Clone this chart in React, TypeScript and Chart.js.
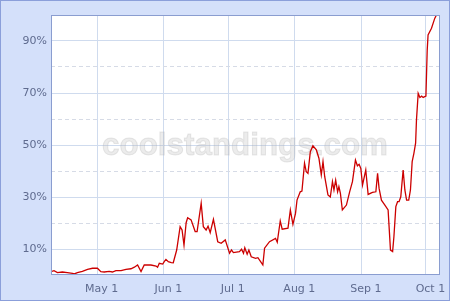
import React, { useEffect, useRef } from "react";
import { Chart, registerables } from "chart.js";

Chart.register(...registerables);

// Day offsets counted from April 1 (0 = Apr 1)
const days = [
  8.5, 9.9, 11.5, 13.8, 16.1, 18.5, 19.3, 20.8, 23.1, 25.5, 27.8, 30.1, 31.7, 33.3, 35.6, 37.1,
  38.7, 41.1, 43.4, 45.7, 47.3, 48.8, 50.4, 51.9, 55.0, 57.4, 58.1, 58.9, 60.5, 61.2, 62.0, 63.1,
  64.5, 65.4, 67.0, 68.6, 69.5, 70.4, 71.4, 72.1, 73.7, 75.6, 76.5, 78.4, 79.4, 80.7, 81.6, 82.6,
  84.1, 86.1, 87.7, 89.6, 91.6, 92.5, 93.4, 96.2, 97.2, 98.1, 98.7, 99.8, 100.6, 101.7, 103.7,
  104.8, 107.1, 107.9, 110.2, 113.0, 113.8, 115.2, 116.1, 118.8, 119.9, 121.1, 122.3, 123.0,
  124.5, 125.3, 126.5, 127.3, 128.1, 129.2, 130.4, 132.0, 133.2, 134.3, 135.1, 135.9, 137.4,
  138.5, 139.5, 140.2, 141.0, 141.9, 142.5, 143.2, 144.1, 146.0, 147.5, 148.8, 150.2, 151.1,
  151.9, 152.7, 153.5, 155.0, 156.1, 158.1, 159.7, 160.5, 161.2, 162.3, 163.9, 165.4, 166.5,
  167.5, 168.1, 169.0, 169.8, 170.5, 171.3, 172.4, 173.2, 174.0, 175.0, 175.8, 176.6, 177.4,
  178.2, 178.6, 179.4, 180.2, 181.0, 181.7, 183.0, 183.6, 184.0, 185.6, 187.1, 187.9,
];

const pct = [
  1.3, 1.65, 0.9, 1.15, 0.9, 0.65, 0.4, 0.9, 1.4, 2.2, 2.6, 2.6, 1.3, 1.15, 1.4, 1.15,
  1.65, 1.65, 2.2, 2.4, 3.0, 3.85, 1.3, 3.85, 3.85, 3.45, 3.0, 4.5, 4.2, 5.1, 6.0, 5.1,
  4.8, 4.7, 9.6, 18.6, 17.3, 11.5, 20.1, 22.0, 21.2, 16.7, 16.7, 27.6, 18.6, 17.3, 18.8, 16.3,
  21.4, 12.8, 12.2, 13.5, 8.35, 9.6, 8.6, 9.0, 9.9, 8.35, 10.5, 8.0, 9.6, 7.0, 6.4,
  6.65, 3.85, 10.3, 12.8, 14.1, 12.6, 20.8, 17.6, 18.0, 25.0, 19.5, 23.7, 28.8,
  32.0, 32.3, 43.0, 39.7, 39.1, 47.4, 49.7, 48.1, 44.9, 38.5, 43.6, 37.8, 30.8,
  30.0, 35.9, 32.7, 36.5, 32.0, 34.0, 31.4, 25.0, 26.9, 32.0, 35.9, 44.2, 42.0,
  42.6, 41.0, 34.6, 40.4, 31.0, 31.8, 32.0, 39.1, 33.3, 28.8, 26.9, 25.0, 9.6,
  9.0, 14.7, 26.3, 28.2, 28.2, 30.1, 40.4, 32.7, 28.8, 28.8, 32.7, 43.6, 46.8,
  50.7, 59.6, 69.9, 68.3, 68.8, 68.3, 68.8, 86.5, 92.3, 94.9, 98.7, 100,
];

const monthTickDays = [30, 61, 91, 122, 153, 183];
const monthTickLabels = ["May 1", "Jun 1", "Jul 1", "Aug 1", "Sep 1", "Oct 1"];
const yLabelValues = [10, 30, 50, 70, 90];
const watermarkText = "coolstandings.com";

const FONT = "'DejaVu Sans', Verdana, sans-serif";
const TICK_COLOR = "#5f6b8f";
const GRID_SOLID = "#cfdbee";
const GRID_DASH = "#d6dbe6";
const PLOT_BORDER = "#8a9dd0";

export default function App() {
  const ref = useRef<HTMLCanvasElement | null>(null);

  useEffect(() => {
    if (!ref.current) return;
    const bgPlugin = {
      id: "plotBg",
      beforeDraw(chart: any) {
        const { ctx, chartArea: a } = chart;
        ctx.save();
        ctx.fillStyle = "#ffffff";
        ctx.fillRect(a.left, a.top, a.right - a.left, a.bottom - a.top);
        ctx.restore();
      },
      beforeDatasetsDraw(chart: any) {
        const { ctx, chartArea: a } = chart;
        ctx.save();
        ctx.beginPath();
        ctx.rect(a.left, a.top, a.right - a.left, a.bottom - a.top);
        ctx.clip();
        let size = 30;
        ctx.font = `bold ${size}px 'Liberation Sans', Arial, sans-serif`;
        const w = ctx.measureText(watermarkText).width;
        size = (size * 286) / w;
        ctx.font = `bold ${size}px 'Liberation Sans', Arial, sans-serif`;
        ctx.textAlign = "center";
        ctx.textBaseline = "alphabetic";
        ctx.fillStyle = "rgba(185,185,185,0.27)";
        ctx.strokeStyle = "rgba(170,170,170,0.25)";
        ctx.lineWidth = 1;
        ctx.fillText(watermarkText, 244, 154);
        ctx.strokeText(watermarkText, 244, 154);
        ctx.restore();
      },
      afterDraw(chart: any) {
        const { ctx, chartArea: a } = chart;
        ctx.save();
        ctx.strokeStyle = PLOT_BORDER;
        ctx.lineWidth = 1;
        ctx.strokeRect(Math.round(a.left) + 0.5, Math.round(a.top) + 0.5, Math.round(a.right - a.left) - 1, Math.round(a.bottom - a.top) - 1);
        ctx.restore();
      },
    };

    const chart = new Chart(ref.current, {
      type: "line",
      data: {
        datasets: [
          {
            data: days.map((d, i) => ({ x: d, y: pct[i] })),
            borderColor: "#cc0000",
            borderWidth: 1.3,
            pointRadius: 0,
            tension: 0,
            fill: false,
          },
        ],
      },
      options: {
        animation: false,
        responsive: false,
        layout: { padding: { left: 0, top: 14, right: 9, bottom: 0 } },
        plugins: { legend: { display: false }, tooltip: { enabled: false } },
        scales: {
          x: {
            type: "linear",
            min: 8.5,
            max: 189.5,
            afterBuildTicks: (s: any) => {
              s.ticks = monthTickDays.map((v) => ({ value: v }));
            },
            afterFit: (s: any) => {
              s.height = 25;
            },
            ticks: {
              autoSkip: false,
              maxRotation: 0,
              labelOffset: 4.5,
              padding: 8,
              color: TICK_COLOR,
              font: { family: FONT, size: 11 },
              callback: (v: any) => {
                const i = monthTickDays.indexOf(Number(v));
                return i >= 0 ? monthTickLabels[i] : "";
              },
            },
            grid: { color: GRID_SOLID, drawTicks: false, lineWidth: 1 },
            border: { display: false },
          },
          y: {
            min: 0,
            max: 100,
            afterBuildTicks: (s: any) => {
              const t = [];
              for (let v = 0; v <= 100; v += 10) t.push({ value: v });
              s.ticks = t;
            },
            afterFit: (s: any) => {
              s.width = 50;
            },
            ticks: {
              padding: 4,
              color: TICK_COLOR,
              font: { family: FONT, size: 11 },
              callback: (v: any) => (yLabelValues.includes(Number(v)) ? `${v}%` : ""),
            },
            grid: {
              drawTicks: false,
              lineWidth: 1,
              color: (c: any) => {
                const v = c.tick ? c.tick.value : -1;
                if (v === 0 || v === 100) return "rgba(0,0,0,0)";
                return v % 20 === 0 ? GRID_DASH : GRID_SOLID;
              },
            },
            border: {
              display: false,
              dash: (c: any) => (c.tick && c.tick.value % 20 === 0 ? [4, 3] : []),
            },
          },
        },
      },
      plugins: [bgPlugin],
    } as any);
    return () => chart.destroy();
  }, []);

  return (
    <div
      style={{
        position: "absolute",
        left: 0,
        top: 0,
        width: 450,
        height: 301,
        boxSizing: "border-box",
        border: "1px solid #8b9fda",
        background: "#d4e0fa",
      }}
    >
      <canvas ref={ref} width={448} height={299} style={{ display: "block", width: 448, height: 299 }} />
    </div>
  );
}
